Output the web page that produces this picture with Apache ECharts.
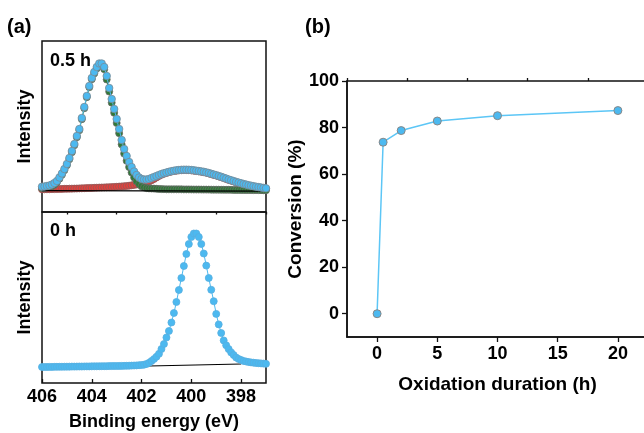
<!DOCTYPE html>
<html><head><meta charset="utf-8">
<script src="https://cdn.jsdelivr.net/npm/echarts@6/dist/echarts.min.js"></script>
<style>html,body{margin:0;padding:0;background:#fff}#c{width:644px;height:433px}</style>
</head><body><div id="c"></div>
<script>
// ---- Data ----
const energy = [406.0,405.9,405.8,405.7,405.6,405.5,405.4,405.3,405.2,405.1,
405.0,404.9,404.8,404.7,404.6,404.5,404.4,404.3,404.2,404.1,
404.0,403.9,403.8,403.7,403.6,403.5,403.4,403.3,403.2,403.1,
403.0,402.9,402.8,402.7,402.6,402.5,402.4,402.3,402.2,402.1,
402.0,401.9,401.8,401.7,401.6,401.5,401.4,401.3,401.2,401.1,
401.0,400.9,400.8,400.7,400.6,400.5,400.4,400.3,400.2,400.1,
400.0,399.9,399.8,399.7,399.6,399.5,399.4,399.3,399.2,399.1,
399.0,398.9,398.8,398.7,398.6,398.5,398.4,398.3,398.2,398.1,
398.0,397.9,397.8,397.7,397.6,397.5,397.4,397.3,397.2,397.1,
397.0];
// 0.5 h spectrum (arb. units)
const blue05 = [25.3,25.5,26.0,26.5,27.5,29.0,31.0,34.5,38.5,43.0,
48.0,54.0,61.0,68.0,76.0,83.0,94.0,105.0,116.0,126.0,
134.0,140.0,145.0,148.5,148.5,145.0,136.0,124.0,113.0,103.0,
93.0,83.0,72.0,63.0,56.0,50.0,45.0,40.5,37.0,34.5,
33.0,32.5,32.5,33.0,34.0,35.0,36.0,37.0,38.0,38.8,
39.5,40.2,40.8,41.3,41.7,42.0,42.2,42.3,42.3,42.2,
42.0,41.7,41.3,41.0,40.6,40.2,39.6,39.0,38.2,37.5,
36.8,36.0,35.2,34.3,33.4,32.5,31.7,30.9,30.1,29.4,
28.7,28.0,27.4,26.8,26.3,25.8,25.3,24.9,24.5,24.1,
23.7];
const red05 = [22.7,22.7,22.75,22.8,22.85,22.9,22.95,23.0,23.1,23.15,
23.2,23.3,23.35,23.4,23.5,23.6,23.7,23.8,23.9,24.0,
24.1,24.2,24.3,24.4,24.5,24.6,24.7,24.8,24.9,25.05,
25.2,25.4,25.6,25.8,26.0,26.3,26.7,27.1,27.5,28.0,
28.5,29.1,29.8,30.6,31.7,33.0,34.6,36.0,37.2,38.2,
39.0,39.8,40.4,40.9,41.3,41.6,41.8,41.9,41.9,41.8,
41.6,41.3,40.9,40.6,40.2,39.8,39.2,38.6,37.8,37.1,
36.4,35.6,34.8,33.9,33.0,32.1,31.3,30.5,29.7,29.0,
28.3,27.6,27.0,26.4,25.9,25.4,24.9,24.5,24.1,23.7,
23.3];
const green05 = [23.8,24.0,24.45,24.9,25.85,27.3,29.8,33.3,37.3,41.8,
46.8,52.8,59.8,66.8,74.8,81.8,92.8,103.8,114.8,124.8,
132.8,138.6,143.6,147.0,146.6,142.8,132.5,120.4,109.3,99.15,
89.0,78.8,67.6,58.4,51.2,44.9,39.5,34.6,30.7,27.7,
25.7,24.6,23.9,23.6,23.5,23.4,23.2,23.0,22.9,22.8,
22.7,22.7,22.7,22.7,22.7,22.7,22.65,22.6,22.6,22.6,
22.55,22.5,22.5,22.5,22.45,22.4,22.4,22.4,22.35,22.3,
22.3,22.3,22.25,22.2,22.2,22.2,22.15,22.1,22.1,22.1,
22.05,22.0,22.0,22.0,21.95,21.9,21.9,21.9,21.85,21.8,
21.8];
const bg05E = [406.0, 397.0];
const bg05 = [21.3, 20.8];
// 0 h spectrum
const blue0 = [16.0,16.0,16.05,16.1,16.1,16.15,16.2,16.2,16.25,16.3,
16.3,16.35,16.4,16.4,16.45,16.5,16.5,16.55,16.6,16.6,
16.65,16.7,16.7,16.75,16.8,16.8,16.85,16.9,16.95,17.0,
17.0,17.05,17.1,17.15,17.2,17.3,17.4,17.5,17.6,17.8,
18.0,18.3,19.0,20.2,22.0,24.0,26.3,29.2,34.0,39.0,
45.5,52.0,60.5,70.0,81.0,93.0,105.0,117.0,129.0,139.0,
146.0,149.5,149.5,146.0,139.0,129.5,117.4,105.0,93.2,81.8,
69.1,58.6,50.0,42.6,37.7,33.9,30.6,28.0,25.5,24.0,
23.0,22.0,21.5,21.0,20.6,20.3,20.0,19.8,19.6,19.4,
19.2];
const bg0E = [401.7, 398.0];
const bg0 = [17.0, 19.0];
// (b) conversion
const duration = [0, 0.5, 2, 5, 10, 20];
const conversion = [0, 73.7, 78.7, 82.8, 85.1, 87.3];
// tick labels
const beTicks = [406, 404, 402, 400, 398];
const beMinor = [405, 403, 401, 399, 397];
const timeTicks = [0, 5, 10, 15, 20];
const timeMinor = [-2.5, 2.5, 7.5, 12.5, 17.5];
const convTicks = [0, 20, 40, 60, 80, 100];
const convMinor = [-10, 10, 30, 50, 70, 90];

const zip = (xs, ys) => xs.map((x, i) => [x, ys[i]]);
const FONT = '"Liberation Sans", Arial, sans-serif';
const BLUE = '#4cb9f0';
const RED = '#e5403b';
const GREEN = '#2f7a36';

const hiddenAxis = (extra) => Object.assign({
  type: 'value', axisLine: {show: false, onZero: false}, axisTick: {show: false},
  axisLabel: {show: false}, splitLine: {show: false}
}, extra);

const nameStyle = (fs) => ({fontSize: fs, fontWeight: 'bold', color: '#000', fontFamily: FONT});
const labelStyle = {fontSize: 18, fontWeight: 'bold', color: '#000', fontFamily: FONT};

const gridBase = {show: true, borderColor: '#111', borderWidth: 1.5, backgroundColor: 'transparent', containLabel: false, outerBoundsMode: 'none'};

const chart = echarts.init(document.getElementById('c'), null, {renderer: 'canvas'});
const spec = (name, xi, yi, xs, ys, color, size, border) => ({
  name, type: 'line', xAxisIndex: xi, yAxisIndex: yi, data: zip(xs, ys),
  symbol: 'circle', symbolSize: size, showSymbol: true,
  itemStyle: {color: color, borderColor: border, borderWidth: 0.8},
  lineStyle: {color: color, width: 1}, emphasis: {disabled: true}, z: 3
});

chart.setOption({
  animation: false,
  backgroundColor: '#fff',
  grid: [
    Object.assign({left: 42, top: 41, width: 224, height: 171}, gridBase),
    Object.assign({left: 42, top: 212, width: 224, height: 171}, gridBase),
    Object.assign({left: 347, top: 81, width: 301, height: 256}, gridBase)
  ],
  xAxis: [
    hiddenAxis({gridIndex: 0, min: 397, max: 406, inverse: true}),
    hiddenAxis({gridIndex: 1, min: 397, max: 406, inverse: true,
      axisTick: {show: true, inside: true, length: 4, customValues: beTicks, lineStyle: {color: '#111', width: 1.3}},
      axisLabel: {show: true, customValues: beTicks, margin: 5, ...labelStyle},
      name: 'Binding energy (eV)', nameLocation: 'middle', nameGap: 30, nameTextStyle: nameStyle(18)}),
    hiddenAxis({gridIndex: 1, min: 397, max: 406, inverse: true,
      axisTick: {show: true, inside: true, length: 2.5, customValues: beMinor, lineStyle: {color: '#111', width: 1.3}}}),
    hiddenAxis({gridIndex: 2, min: -2.5, max: 22.5,
      axisLine: {show: true, onZero: false, lineStyle: {color: '#111', width: 1.5}},
      axisTick: {show: true, inside: false, length: 5, customValues: timeTicks, lineStyle: {color: '#111', width: 1.3}},
      axisLabel: {show: true, customValues: timeTicks, margin: 8, ...labelStyle},
      name: 'Oxidation duration (h)', nameLocation: 'middle', nameGap: 38, nameTextStyle: nameStyle(19)}),
    hiddenAxis({gridIndex: 2, min: -2.5, max: 22.5,
      axisTick: {show: true, inside: false, length: 3, customValues: timeMinor, lineStyle: {color: '#111', width: 1.3}}})
  ],
  yAxis: [
    hiddenAxis({gridIndex: 0, min: 0, max: 171, name: 'Intensity', nameLocation: 'middle', nameGap: 8, nameTextStyle: nameStyle(18)}),
    hiddenAxis({gridIndex: 1, min: 0, max: 171, name: 'Intensity', nameLocation: 'middle', nameGap: 8, nameTextStyle: nameStyle(18)}),
    hiddenAxis({gridIndex: 2, min: -10, max: 100,
      axisLine: {show: true, onZero: false, lineStyle: {color: '#111', width: 1.5}},
      axisTick: {show: true, inside: false, length: 5, customValues: convTicks, lineStyle: {color: '#111', width: 1.3}},
      axisLabel: {show: true, customValues: convTicks, margin: 8, ...labelStyle},
      name: 'Conversion (%)', nameLocation: 'middle', nameGap: 42, nameTextStyle: nameStyle(19)}),
    hiddenAxis({gridIndex: 2, min: -10, max: 100,
      axisTick: {show: true, inside: false, length: 3, customValues: convMinor, lineStyle: {color: '#111', width: 1.3}}})
  ],
  series: [
    spec('N2 component', 0, 0, energy, red05, RED, 7, '#8a5a5a'),
    spec('N1 component', 0, 0, energy, green05, GREEN, 7, '#6a6a6a'),
    {name: 'bg 0.5h', type: 'line', xAxisIndex: 0, yAxisIndex: 0, data: zip(bg05E, bg05), symbol: 'none',
      lineStyle: {color: '#000', width: 1.2}, z: 4},
    Object.assign(spec('0.5 h', 0, 0, energy, blue05, BLUE, 7.5, '#7a8a95'), {z: 5}),
    {name: 'bg 0h', type: 'line', xAxisIndex: 1, yAxisIndex: 1, data: zip(bg0E, bg0), symbol: 'none',
      lineStyle: {color: '#000', width: 1.2}, z: 4},
    Object.assign(spec('0 h', 1, 1, energy, blue0, BLUE, 7, '#58aee0'), {z: 5}),
    {name: 'Conversion', type: 'line', xAxisIndex: 3, yAxisIndex: 2, data: zip(duration, conversion),
      symbol: 'circle', symbolSize: 8, itemStyle: {color: BLUE, borderColor: '#888', borderWidth: 1},
      lineStyle: {color: '#5cc6f6', width: 1.5}, z: 5}
  ],
  graphic: [
    {type: 'text', x: 7, y: 27, style: {text: '(a)', font: 'bold 20px ' + FONT, fill: '#000', verticalAlign: 'middle'}},
    {type: 'text', x: 305, y: 27, style: {text: '(b)', font: 'bold 20px ' + FONT, fill: '#000', verticalAlign: 'middle'}},
    {type: 'text', x: 50, y: 61, style: {text: '0.5 h', font: 'bold 18px ' + FONT, fill: '#000', verticalAlign: 'middle'}},
    {type: 'text', x: 50, y: 231, style: {text: '0 h', font: 'bold 18px ' + FONT, fill: '#000', verticalAlign: 'middle'}}
  ]
});
</script></body></html>
